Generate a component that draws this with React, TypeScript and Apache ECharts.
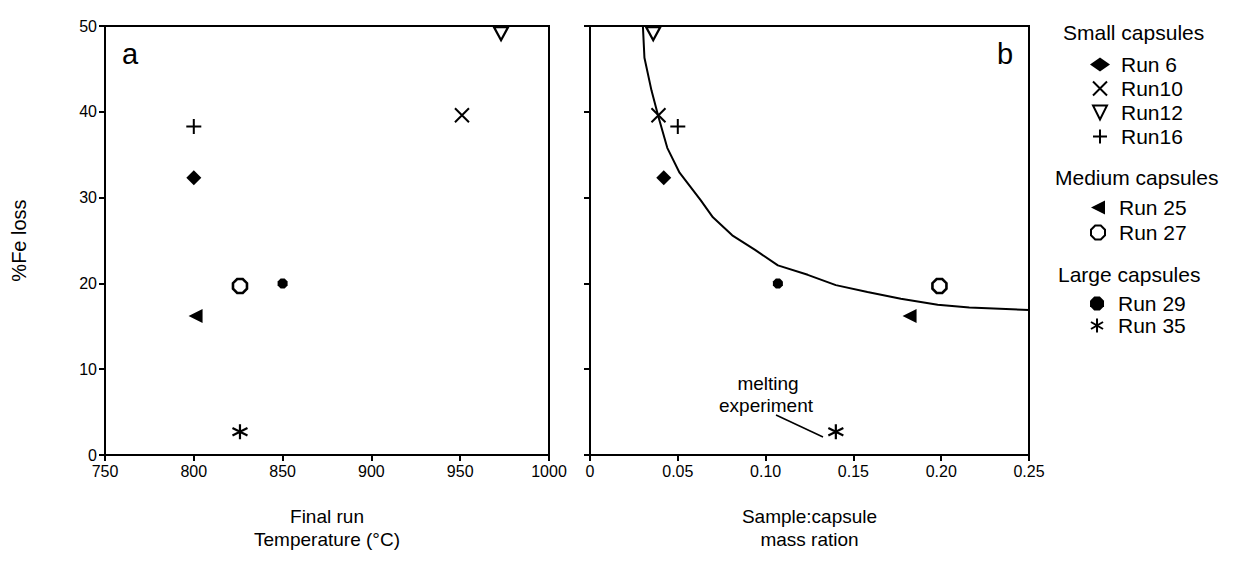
import React, { useEffect, useRef } from "react";
import * as echarts from "echarts";

const FONT = "'Liberation Sans', Arial, sans-serif";

// Runs (legend order)
const runs = ["Run 6", "Run10", "Run12", "Run16", "Run 25", "Run 27", "Run 29", "Run 35"];
// Panel a: final run temperature (°C)
const finalTemp = [800, 951, 973, 800, 801, 826, 850, 826];
// Panel b: sample:capsule mass ratio
const massRatio = [0.042, 0.039, 0.036, 0.05, 0.182, 0.199, 0.107, 0.14];
// %Fe loss (both panels)
const feLoss = [32.3, 39.6, 49.1, 38.3, 16.2, 19.7, 20.0, 2.7];

// Fitted curve in panel b
const fitRatio = [0.03, 0.031, 0.035, 0.039, 0.044, 0.051, 0.063, 0.07, 0.081, 0.094, 0.107, 0.124, 0.14, 0.158, 0.177, 0.198, 0.216, 0.25];
const fitLoss = [50.5, 46.3, 42.5, 39.4, 35.8, 32.9, 29.7, 27.7, 25.6, 23.9, 22.1, 21.0, 19.8, 19.0, 18.2, 17.5, 17.2, 16.9];

// Axis ticks
const tempTicks = { min: 750, max: 1000, interval: 50 };
const ratioTicks = { min: 0, max: 0.25, interval: 0.05 };
const lossTicks = { min: 0, max: 50, interval: 10 };

const groups = [
  { title: "Small capsules", items: ["Run 6", "Run10", "Run12", "Run16"] },
  { title: "Medium capsules", items: ["Run 25", "Run 27"] },
  { title: "Large capsules", items: ["Run 29", "Run 35"] },
];

const OCT = "path://M3,0L7,0L10,3L10,7L7,10L3,10L0,7L0,3Z";
const CLEAR = "rgba(0,0,0,0)";

const markerStyle: Record<string, any> = {
  "Run 6": { symbol: "diamond", symbolSize: [15, 15], itemStyle: { color: "#000", opacity: 1 } },
  "Run10": { symbol: "path://M0,0L10,10M10,0L0,10", symbolSize: 14, itemStyle: { color: CLEAR, borderColor: "#000", borderWidth: 2, opacity: 1 } },
  "Run12": { symbol: "path://M0,0L10,0L5,10Z", symbolSize: [14, 13], itemStyle: { color: "#fff", borderColor: "#000", borderWidth: 2.2, opacity: 1 } },
  "Run16": { symbol: "path://M5,0L5,10M0,5L10,5", symbolSize: 15, itemStyle: { color: CLEAR, borderColor: "#000", borderWidth: 2, opacity: 1 } },
  "Run 25": { symbol: "path://M0,5L10,0L10,10Z", symbolSize: 14, itemStyle: { color: "#000", opacity: 1 } },
  "Run 27": { symbol: OCT, symbolSize: 14, itemStyle: { color: "#fff", borderColor: "#000", borderWidth: 2.6, opacity: 1 } },
  "Run 29": { symbol: OCT, symbolSize: 10, itemStyle: { color: "#000", opacity: 1 } },
  "Run 35": { symbol: "path://M5,0L5,10M0.7,2.5L9.3,7.5M9.3,2.5L0.7,7.5", symbolSize: 15, itemStyle: { color: CLEAR, borderColor: "#000", borderWidth: 2.2, opacity: 1 } },
};

function axisCommon() {
  return {
    axisLine: { show: true, onZero: false, lineStyle: { color: "#000", width: 2 } },
    axisTick: { show: true, inside: false, length: 6, lineStyle: { color: "#000", width: 2 } },
    axisLabel: { color: "#000", fontSize: 16, fontFamily: FONT, margin: 8, formatter: (v: number) => String(v) },
    splitLine: { show: false },
  };
}

export default function App() {
  const ref = useRef<HTMLDivElement>(null);

  useEffect(() => {
    if (!ref.current) return;
    const chart = echarts.init(ref.current, undefined, { renderer: "svg" });

    const series: any[] = [];
    runs.forEach((name, i) => {
      const st = markerStyle[name];
      series.push({
        name,
        type: "scatter",
        xAxisIndex: 0,
        yAxisIndex: 0,
        data: [[finalTemp[i], feLoss[i]]],
        ...st,
        z: 3,
      });
      series.push({
        name,
        type: "scatter",
        xAxisIndex: 1,
        yAxisIndex: 1,
        data: [[massRatio[i], feLoss[i]]],
        ...st,
        z: 3,
      });
    });
    series.push({
      name: "fit",
      type: "line",
      xAxisIndex: 1,
      yAxisIndex: 1,
      data: fitRatio.map((x, i) => [x, fitLoss[i]]),
      symbol: "none",
      lineStyle: { color: "#000", width: 2 },
      clip: true,
      z: 2,
    });

    const legendTops = [54, 197, 293];
    const legendGaps = [3, 4, 1];
    const headingY = [33, 178, 275];
    const headingX = [1063, 1055, 1058];

    const option: any = {
      animation: false,
      backgroundColor: "#fff",
      textStyle: { fontFamily: FONT },
      grid: [
        { left: 105, top: 26, width: 444, height: 429, show: true, borderColor: "#000", borderWidth: 2, backgroundColor: CLEAR },
        { left: 590, top: 26, width: 439, height: 429, show: true, borderColor: "#000", borderWidth: 2, backgroundColor: CLEAR },
      ],
      xAxis: [
        {
          gridIndex: 0, type: "value", ...tempTicks, ...axisCommon(),
          name: "Final run\nTemperature (°C)", nameLocation: "middle", nameGap: 50,
          nameTextStyle: { color: "#000", fontSize: 19, fontFamily: FONT, lineHeight: 23 },
        },
        {
          gridIndex: 1, type: "value", ...ratioTicks, ...axisCommon(),
          axisLabel: {
            ...axisCommon().axisLabel,
            formatter: (v: number) => (v === 0 ? "0" : v.toFixed(2)),
          },
          name: "Sample:capsule\nmass ration", nameLocation: "middle", nameGap: 50,
          nameTextStyle: { color: "#000", fontSize: 19, fontFamily: FONT, lineHeight: 23 },
        },
      ],
      yAxis: [
        {
          gridIndex: 0, type: "value", ...lossTicks, ...axisCommon(),
          name: "%Fe loss", nameLocation: "middle", nameGap: 76, nameRotate: 90,
          nameTextStyle: { color: "#000", fontSize: 20, fontFamily: FONT },
        },
        {
          gridIndex: 1, type: "value", ...lossTicks, ...axisCommon(),
          axisLabel: { show: false },
        },
      ],
      legend: groups.map((g, gi) => ({
        data: g.items,
        orient: "vertical",
        left: 1090,
        top: legendTops[gi],
        padding: 0,
        itemGap: legendGaps[gi],
        itemWidth: 20,
        itemHeight: 14,
        selectedMode: false,
        textStyle: { color: "#000", fontSize: 21, fontFamily: FONT, lineHeight: 19, padding: [0, 0, 0, 6] },
      })),
      graphic: [
        ...groups.map((g, gi) => ({
          type: "text", left: headingX[gi], top: headingY[gi] - 11,
          style: { text: g.title, fontSize: 21, fontFamily: FONT, fill: "#000" },
        })),
        { type: "text", left: 122, top: 39, style: { text: "a", fontSize: 29, fontFamily: FONT, fill: "#000" } },
        { type: "text", left: 997, top: 39, style: { text: "b", fontSize: 29, fontFamily: FONT, fill: "#000" } },
        { type: "text", x: 768, y: 383, style: { text: "melting", fontSize: 19, fontFamily: FONT, fill: "#000", align: "center", verticalAlign: "middle" } },
        { type: "text", x: 766, y: 405, style: { text: "experiment", fontSize: 19, fontFamily: FONT, fill: "#000", align: "center", verticalAlign: "middle" } },
        { type: "line", shape: { x1: 776, y1: 415, x2: 823, y2: 437 }, style: { stroke: "#000", lineWidth: 1.5 } },
      ],
      series,
    };

    chart.setOption(option);
    return () => chart.dispose();
  }, []);

  return (
    <div
      ref={ref}
      style={{ position: "absolute", left: 0, top: 0, width: 1243, height: 574, background: "#fff" }}
    />
  );
}
